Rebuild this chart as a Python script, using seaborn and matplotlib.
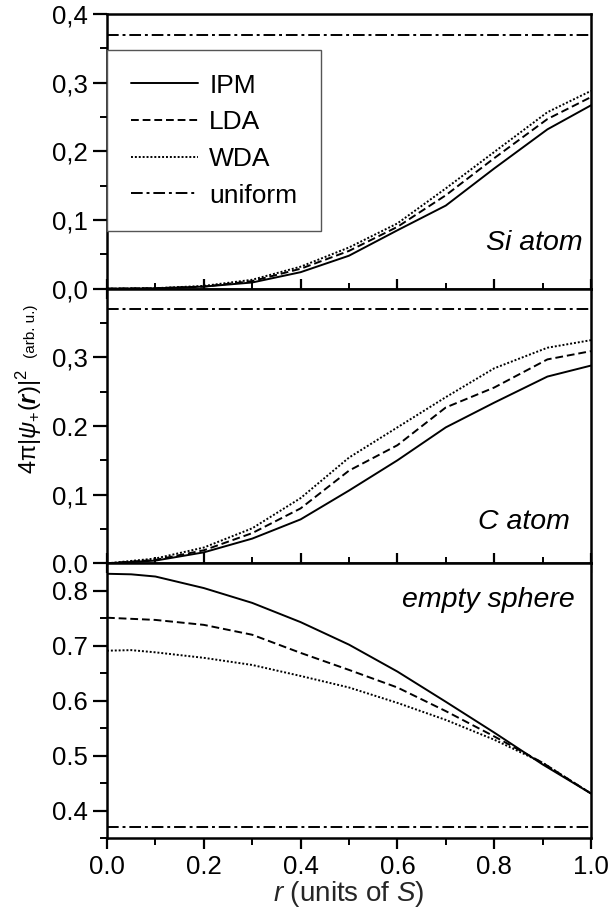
import numpy as np
import pandas as pd
import matplotlib.pyplot as plt
import seaborn as sns
from matplotlib.ticker import MultipleLocator, FixedLocator, FixedFormatter
from matplotlib.lines import Line2D

# ── data ────────────────────────────────────────────────────
r = [0.0, 0.1, 0.2, 0.3, 0.4, 0.5, 0.6, 0.7, 0.8, 0.91, 1.0]

si_ipm = [0.0, 0.0005, 0.003, 0.009, 0.024, 0.048, 0.085, 0.121, 0.175, 0.232, 0.267]
si_lda = [0.0, 0.0006, 0.003, 0.011, 0.029, 0.055, 0.090, 0.136, 0.190, 0.247, 0.279]
si_wda = [0.0, 0.0007, 0.004, 0.013, 0.032, 0.060, 0.095, 0.146, 0.199, 0.257, 0.288]

c_ipm = [0.0, 0.004, 0.016, 0.036, 0.064, 0.106, 0.150, 0.198, 0.234, 0.272, 0.288]
c_lda = [0.0, 0.005, 0.019, 0.044, 0.080, 0.135, 0.172, 0.227, 0.256, 0.297, 0.309]
c_wda = [0.0, 0.007, 0.023, 0.051, 0.095, 0.154, 0.198, 0.242, 0.284, 0.314, 0.325]

r_es = [0.0, 0.05, 0.1, 0.2, 0.3, 0.4, 0.5, 0.6, 0.7, 0.8, 0.9, 1.0]
es_ipm = [0.831, 0.830, 0.826, 0.805, 0.778, 0.743, 0.702, 0.653, 0.598, 0.542, 0.484, 0.431]
es_lda = [0.751, 0.749, 0.747, 0.738, 0.720, 0.687, 0.656, 0.624, 0.581, 0.535, 0.487, 0.431]
es_wda = [0.691, 0.692, 0.688, 0.678, 0.665, 0.645, 0.624, 0.596, 0.565, 0.529, 0.487, 0.431]

uniform = 0.37
methods = ['IPM', 'LDA', 'WDA']
panel_names = ['Si atom', 'C atom', 'empty sphere']

frames = []
for name, x, vals in [('Si atom', r, [si_ipm, si_lda, si_wda]),
                      ('C atom', r, [c_ipm, c_lda, c_wda]),
                      ('empty sphere', r_es, [es_ipm, es_lda, es_wda])]:
    for m, v in zip(methods, vals):
        frames.append(pd.DataFrame({'panel': name, 'method': m, 'r': x, 'value': v}))
df = pd.concat(frames, ignore_index=True)

# ── style ───────────────────────────────────────────────────
sns.set_style('ticks', {'axes.edgecolor': 'black', 'xtick.color': 'black',
                        'ytick.color': 'black', 'text.color': 'black'})
plt.rcParams['font.family'] = ['Liberation Sans', 'DejaVu Sans']
plt.rcParams['mathtext.fontset'] = 'custom'
plt.rcParams['mathtext.rm'] = 'Liberation Sans'
plt.rcParams['mathtext.it'] = 'Liberation Sans:italic'
plt.rcParams['mathtext.bf'] = 'Liberation Sans:bold'
plt.rcParams['mathtext.bfit'] = 'Liberation Sans:bold:italic'

dashes = {'IPM': '', 'LDA': (4, 2), 'WDA': (1, 1)}
uni_dash = (6, 2, 1.5, 2)

fig, axes = plt.subplots(3, 1, figsize=(6.09, 9.09), dpi=100, sharex=True)
fig.subplots_adjust(left=0.1757, right=0.9704, top=0.9846, bottom=0.0781, hspace=0)

ylims = [(0, 0.4), (0, 0.4), (0.35, 0.85)]
ytick_vals = [[0, 0.1, 0.2, 0.3, 0.4], [0, 0.1, 0.2, 0.3], [0.4, 0.5, 0.6, 0.7, 0.8]]
ytick_txt = [['0,0', '0,1', '0,2', '0,3', '0,4'], ['0.0', '0,1', '0.2', '0,3'],
             ['0.4', '0.5', '0.6', '0.7', '0.8']]

for i, (ax, name) in enumerate(zip(axes, panel_names)):
    sub = df[df['panel'] == name]
    sns.lineplot(data=sub, x='r', y='value', style='method', style_order=methods,
                 dashes=dashes, color='black', linewidth=1.4, legend=False, ax=ax)
    ax.axhline(uniform, color='black', linewidth=1.4, dashes=uni_dash)
    ax.set_xlim(0, 1)
    ax.set_ylim(*ylims[i])
    ax.yaxis.set_major_locator(FixedLocator(ytick_vals[i]))
    ax.yaxis.set_major_formatter(FixedFormatter(ytick_txt[i]))
    ax.yaxis.set_minor_locator(MultipleLocator(0.05))
    ax.xaxis.set_major_locator(MultipleLocator(0.2))
    ax.xaxis.set_minor_locator(MultipleLocator(0.1))
    ax.set_xlabel('')
    ax.set_ylabel('')
    for s in ax.spines.values():
        s.set_linewidth(1.8)
        s.set_visible(True)
        s.set_color('black')
    ax.tick_params(axis='y', which='major', direction='out', length=10, width=1.6,
                   labelsize=18.5, pad=4)
    ax.tick_params(axis='y', which='minor', direction='out', length=5, width=1.4)
    xdir = 'out' if i == 2 else 'inout'
    ax.tick_params(axis='x', which='major', direction=xdir, length=8 if i == 2 else 14,
                   width=1.6, labelsize=18.5, pad=4)
    ax.tick_params(axis='x', which='minor', direction=xdir, length=5 if i == 2 else 9,
                   width=1.4)
    ax.tick_params(right=False, top=False, which='both')

axes[0].text(0.983, 0.168, 'Si atom', transform=axes[0].transAxes, ha='right',
             va='center', fontsize=20.5, style='italic')
axes[1].text(0.957, 0.15, 'C atom', transform=axes[1].transAxes, ha='right',
             va='center', fontsize=20.5, style='italic')
axes[2].text(0.967, 0.865, 'empty sphere', transform=axes[2].transAxes, ha='right',
             va='center', fontsize=20.5, style='italic')

handles = [Line2D([], [], color='black', linewidth=1.4, linestyle='-'),
           Line2D([], [], color='black', linewidth=1.4, dashes=(4, 2)),
           Line2D([], [], color='black', linewidth=1.4, dashes=(1, 1)),
           Line2D([], [], color='black', linewidth=1.4, dashes=uni_dash)]
leg = axes[0].legend(handles, methods + ['uniform'], loc='upper left',
                     bbox_to_anchor=(0.0, 0.869), fontsize=19, frameon=True,
                     fancybox=False, framealpha=1, edgecolor='#555555',
                     handlelength=2.55, handletextpad=0.42, labelspacing=0.48,
                     borderpad=0.9, borderaxespad=0)
leg.get_frame().set_linewidth(1.0)

axes[2].set_xlabel(r'$r$ (units of $S$)', fontsize=20, labelpad=0)

fig.text(0.047, 0.536, r'4π$|\psi_{+}(\boldsymbol{r})|^{2}$', rotation=90,
         ha='center', va='center', fontsize=17)
fig.text(0.051, 0.606, '(arb. u.)', rotation=90, ha='center', va='bottom', fontsize=11)

plt.savefig('out.png', dpi=100)
